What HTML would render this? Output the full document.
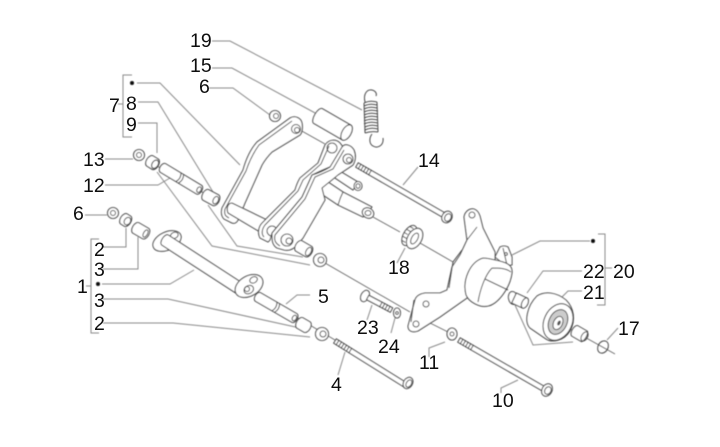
<!DOCTYPE html>
<html><head><meta charset="utf-8">
<style>
html,body{margin:0;padding:0;background:#fff}
svg{display:block}
text{font-family:"Liberation Sans",sans-serif;font-size:19.5px;fill:#111}
.l{fill:none;stroke:#8a8a8a;stroke-width:1}
.p{fill:#fff;stroke:#4a4a4a;stroke-width:1.1;stroke-linejoin:round}
.n{fill:none;stroke:#4a4a4a;stroke-width:1}
.a{fill:none;stroke:#666;stroke-width:.9}
</style></head>
<body>
<svg width="720" height="447" viewBox="0 0 720 447" xmlns="http://www.w3.org/2000/svg">
<defs>
<filter id="b" x="-5%" y="-5%" width="110%" height="110%"><feGaussianBlur stdDeviation="0.45"/></filter>
<filter id="t" x="-5%" y="-5%" width="110%" height="110%"><feGaussianBlur stdDeviation="0.3"/></filter>
</defs>
<g filter="url(#b)">
<!-- axes -->
<path class="a" d="M150 162L216 200M300 130L325 144M256 293L340 343M373 217L400 232M420 243L453 262M325 263L410 312M430 323L450 333M545 315L615 354"/>
<!-- leaders -->
<path class="l" d="M212 41H230L362 110M212 68H232L317 114M209 88H233L270 115M137 83H160L240 165M138 102H158L213 192M138 123H157V153M105 159H133M105 185H158L170 178M85 215H107"/>
<path class="l" d="M132 75H123V137H132M118 104H123M99 239H91V333H99M86 286H91M103 247H126V228M103 269H138V237M102 284H170L194 270M103 299H168L300 328M103 323H173L310 337"/>
<path class="l" d="M286 304L297 295H310M157 172L212 246L310 265M208 205L237 246L303 257M338 375L345 352M501 393V388L518 380M429 357V348L445 342M367 320L372 305M391 333L395 318M397 263L405 248M418 167L403 185M607 340L618 328M582 271H543L527 293M582 291H568L562 297M590 241H540L512 255M598 234H605V305H597M605 268H612M515 305L533 345L573 342"/>
<circle cx="132" cy="83" r="2" fill="#111"/><circle cx="98" cy="284" r="2" fill="#111"/><circle cx="593" cy="241" r="2" fill="#111"/>

<!-- spring -->
<path class="n" d="M365 102C363 94 367 89 372 90C376 91 377 94 376 96"/>
<path class="n" d="M364 103Q370 100 377 102M364 106Q370 103 377 105M364 109Q370 106 377 108M364 112Q370 109 378 111M364 115Q370 112 378 114M364 118Q370 115 378 117M364 121Q370 118 378 120M364 124Q370 121 378 123M365 127Q371 124 378 126M365 130Q371 127 378 129M365 133Q371 131 378 132M364 103L365 133M377 102L378 132"/>
<path class="n" d="M372 134C369 138 369 144 373 146C378 149 384 145 383 138"/>

<!-- small parts upper left -->
<circle class="p" cx="139" cy="155" r="5.5"/><circle class="n" cx="139" cy="155" r="2.5"/>
<g transform="translate(150 161) rotate(32)"><path class="p" d="M0 -6H6A3.5 6 0 0 1 6 6H0A3.5 6 0 0 1 0 -6Z"/><ellipse class="p" cx="6" cy="0" rx="3" ry="4.5"/></g>
<g transform="translate(163 168) rotate(31)"><path class="p" d="M0 -5H42A3 5 0 0 1 42 5H0A3 5 0 0 1 0 -5Z"/><ellipse class="n" cx="42" cy="0" rx="2" ry="3"/><path class="n" d="M18 -5Q21 0 18 5M21 -5Q24 0 21 5"/></g>
<g transform="translate(206 195) rotate(28)"><path class="p" d="M0 -6H11A3.5 6 0 0 1 11 6H0A3.5 6 0 0 1 0 -6Z"/><ellipse class="n" cx="11" cy="0" rx="2.5" ry="4"/></g>

<!-- left plate -->
<path class="p" d="M290 118C295 115 301 118 302 123C303 128 302 133 300 135L272 152Q266 158 262 165L245 203L238 220C236 224 233 224 230 222L224 219C221 216 221 212 222 208L243 170Q248 152 257 142Z"/>
<path class="n" d="M292 121L259 145Q251 156 246 171L225 209C224 214 225 216 229 218"/>
<circle class="n" cx="296" cy="129" r="4.5"/><circle class="n" cx="297" cy="130" r="2.5"/>
<!-- bar -->
<path class="p" d="M232 203L267 220L260 232L228 213C226 208 228 203 232 203Z"/>

<!-- nut 6 top -->
<circle class="p" cx="275" cy="116" r="5.5"/><circle class="n" cx="276" cy="116" r="2.5"/>
<!-- cylinder 15 -->
<g transform="translate(318 116) rotate(30)"><path class="p" d="M0 -8.5H33V8.5H0A3.5 8.5 0 0 1 0 -8.5Z"/><ellipse class="p" cx="33" cy="0" rx="4.5" ry="8.5"/></g>

<!-- big pin -->
<path class="p" d="M325 180L343 192L372 207L363 217L338 205L320 193Z"/>
<ellipse class="p" cx="368" cy="213" rx="6" ry="5" transform="rotate(30 368 213)"/><ellipse class="n" cx="368" cy="213" rx="3" ry="2.5"/>
<path class="n" d="M343 192Q340 198 338 205"/>
<!-- small pin -->
<path class="p" d="M338 170L358 182L353 190L335 178Z"/>
<ellipse class="p" cx="358" cy="186" rx="4" ry="4.5"/><ellipse class="n" cx="358" cy="186" rx="2" ry="2.3"/>

<!-- back plate -->
<path class="p" d="M325 145C329 139 336 139 340 143L343 147L332 166Q322 170 312 175L302 197L272 233L270 240L268 242L260 238C257 232 259 226 262 223L295 190Q297 183 300 178L318 163Z"/>
<path class="n" d="M329 146L321 164L303 180L298 191L265 225C262 229 261 234 264 237"/>
<circle class="n" cx="332" cy="148" r="5"/>
<circle class="n" cx="272" cy="231" r="5"/>
<!-- front plate -->
<path class="p" d="M342 147C345 143 351 145 354 150C356 155 356 160 353 165L338 175L322 188L325 200L303 238L298 244C293 250 288 251 284 250L277 248C272 245 272 240 272 233L302 197L312 175Q322 172 330 167Z"/>
<path class="n" d="M344 150L333 169L315 177L305 199L275 235C274 240 275 243 280 246"/>
<circle class="p" cx="348" cy="159" r="5"/><circle class="n" cx="349" cy="160" r="2.5"/>
<circle class="p" cx="287" cy="240" r="6"/><circle class="n" cx="289" cy="241" r="3"/>

<!-- bush & nut after plates -->
<g transform="translate(299 246) rotate(30)"><path class="p" d="M0 -6H11A3.5 6 0 0 1 11 6H0A3.5 6 0 0 1 0 -6Z"/><ellipse class="n" cx="11" cy="0" rx="2.5" ry="4.5"/></g>
<circle class="p" cx="320" cy="260" r="6.5"/><circle class="n" cx="321" cy="260" r="3"/>

<!-- lower left small -->
<circle class="p" cx="113" cy="213" r="5.5"/><circle class="n" cx="113" cy="213" r="2.5"/>
<g transform="translate(124 219) rotate(32)"><path class="p" d="M0 -6H4A3.5 6 0 0 1 4 6H0A3.5 6 0 0 1 0 -6Z"/><ellipse class="n" cx="4" cy="0" rx="3" ry="4"/></g>
<g transform="translate(136 228) rotate(30)"><path class="p" d="M0 -6H11A3.5 6 0 0 1 11 6H0A3.5 6 0 0 1 0 -6Z"/><ellipse class="n" cx="11" cy="0" rx="2" ry="4"/></g>

<!-- main shaft -->
<g transform="translate(167 241) rotate(-25)"><ellipse class="p" cx="0" cy="0" rx="15" ry="9"/><ellipse class="n" cx="9" cy="-2" rx="4" ry="3"/></g>
<g transform="translate(165 240) rotate(33)"><path class="p" d="M0 -6H95V6H0A3 6 0 0 1 0 -6Z"/></g>
<g transform="translate(249 286) rotate(-30)"><ellipse class="p" cx="0" cy="0" rx="15" ry="10"/><ellipse class="n" cx="7" cy="-3" rx="4" ry="3"/><ellipse class="n" cx="-2" cy="3" rx="5" ry="4"/></g>
<circle class="n" cx="247" cy="289" r="2.5"/>
<g transform="translate(258 297) rotate(30)"><path class="p" d="M0 -5H42A3 5 0 0 1 42 5H0A3 5 0 0 1 0 -5Z"/><ellipse class="n" cx="42" cy="0" rx="2" ry="3"/><path class="n" d="M19 -5Q22 0 19 5M22 -5Q25 0 22 5"/></g>
<g transform="translate(300 323) rotate(30)"><path class="p" d="M0 -6H8A3.5 6 0 0 1 8 6H0A3.5 6 0 0 1 0 -6Z"/></g>
<circle class="p" cx="322" cy="334" r="6.5"/><circle class="n" cx="323" cy="334" r="3"/>

<!-- bolt 4 -->
<g transform="translate(335 341) rotate(32)"><path class="p" d="M0 -2.5H82V2.5H0Z"/><path class="n" d="M3 -3V3M6 -3V3M9 -3V3M12 -3V3M15 -3V3M18 -3V3"/></g>
<g transform="translate(408 383) rotate(32)"><ellipse class="p" cx="0" cy="0" rx="4.5" ry="6"/><ellipse class="n" cx="1" cy="0" rx="2.5" ry="4"/></g>
<!-- bolt 14 -->
<g transform="translate(357 165) rotate(30)"><path class="p" d="M0 -2.5H100V2.5H0Z"/><path class="n" d="M3 -3V3M6 -3V3M9 -3V3M12 -3V3M15 -3V3"/></g>
<g transform="translate(447 217) rotate(30)"><ellipse class="p" cx="0" cy="0" rx="5" ry="6"/><ellipse class="n" cx="1" cy="0" rx="3" ry="4"/></g>
<!-- nut 18 -->
<g transform="translate(412 237) rotate(30)"><ellipse class="p" cx="-3" cy="0" rx="6" ry="11"/><ellipse class="p" cx="3" cy="0" rx="7" ry="11"/><ellipse class="n" cx="3" cy="0" rx="3" ry="6"/><path class="n" d="M-7 -8L-3 -8M-8 -4L-4 -4M-9 0L-5 0M-8 4L-4 4M-7 8L-3 8"/></g>

<!-- bracket plate -->
<path class="p" d="M464 217C465 211 470 208 474 209C477 210 479 213 480 216L483 228L495 252L495 262L467 298L440 317L418 331C412 333 408 331 408 326L415 300C416 296 419 294 425 293L440 293L447 290L452 267L460 255L467 240Z"/>
<path class="n" d="M477 227L467 240M462 250L453 262L449 288M414 300L411 322"/>
<circle class="n" cx="472" cy="215" r="3"/><circle class="n" cx="426" cy="304" r="3"/><circle class="n" cx="416" cy="324" r="3"/>
<!-- clamp -->
<path class="p" d="M495 257L500 247Q504 245 508 247L512 257L512 265L505 265Z"/><circle class="n" cx="506" cy="254" r="1.4"/><path class="n" d="M503 248L507 265"/>
<!-- tube -->
<path class="p" d="M483 258C470 262 462 280 466 295C469 302 480 308 488 306C498 304 510 288 512 273C513 264 505 262 495 260C491 259 487 258 483 258Z"/>
<path class="n" d="M492 268C485 275 480 290 478 302M492 268C498 268 506 268 511 272M485 279L508 290"/>

<!-- small hardware right -->
<g transform="translate(365 296) rotate(28)"><ellipse class="p" cx="0" cy="0" rx="4" ry="6"/><path class="p" d="M3 -2.5H30V2.5H3Z"/><path class="n" d="M18 -3V3M21 -3V3M24 -3V3M27 -3V3"/></g>
<ellipse class="p" cx="397" cy="313" rx="3.5" ry="5"/><circle class="n" cx="397" cy="313" r="1.4"/>
<ellipse class="p" cx="452" cy="334" rx="5" ry="6"/><circle class="n" cx="452" cy="334" r="2"/>
<!-- bolt 10 -->
<g transform="translate(459 340) rotate(30)"><path class="p" d="M0 -2.5H100V2.5H0Z"/><path class="n" d="M3 -3V3M6 -3V3M9 -3V3M12 -3V3M15 -3V3"/></g>
<g transform="translate(547 390) rotate(30)"><ellipse class="p" cx="0" cy="0" rx="5" ry="6.5"/><ellipse class="n" cx="1" cy="0" rx="3" ry="4"/></g>

<!-- spacer 22 -->
<ellipse class="p" cx="513" cy="298" rx="4.5" ry="6.5" transform="rotate(-10 513 298)"/>
<g transform="translate(514 298) rotate(25)"><path class="p" d="M0 -5.5H12V5.5H0Z"/><ellipse class="p" cx="12" cy="0" rx="3" ry="5.5"/></g>
<!-- roller 21 -->
<path class="p" d="M537 296C545 291 556 292 566 300C574 308 576 320 570 331C564 341 552 343 546 339L530 328C524 322 527 306 537 296Z"/>
<ellipse class="p" cx="558" cy="322" rx="14" ry="19" transform="rotate(25 558 322)"/>
<ellipse fill="#ccc" stroke="#4a4a4a" cx="558" cy="322" rx="9" ry="13" transform="rotate(25 558 322)"/>
<ellipse fill="#fff" stroke="#4a4a4a" cx="558" cy="323" rx="4.5" ry="7" transform="rotate(25 558 323)"/>
<ellipse fill="#555" cx="559" cy="323" rx="1.6" ry="2.6" transform="rotate(25 559 323)"/>
<!-- bush -->
<g transform="translate(575 331) rotate(30)"><path class="p" d="M0 -6H11A3.5 7 0 0 1 11 6H0A3 6 0 0 1 0 -6Z"/><ellipse class="n" cx="11" cy="0" rx="3" ry="5"/></g>
<!-- circlip -->
<ellipse class="n" cx="603" cy="347" rx="5" ry="6.5" transform="rotate(30 603 347)" stroke-width="1.6"/>
</g>

<g filter="url(#t)">
<text x="190" y="47">19</text>
<text x="190" y="72">15</text>
<text x="199" y="93">6</text>
<text x="109" y="112">7</text>
<text x="126" y="110">8</text>
<text x="126" y="131">9</text>
<text x="83" y="166">13</text>
<text x="83" y="192">12</text>
<text x="73" y="220">6</text>
<text x="94" y="256">2</text>
<text x="94" y="276">3</text>
<text x="77" y="293">1</text>
<text x="94" y="307">3</text>
<text x="94" y="330">2</text>
<text x="318" y="303">5</text>
<text x="331" y="391">4</text>
<text x="418" y="167">14</text>
<text x="388" y="274">18</text>
<text x="583" y="278">22</text>
<text x="613" y="278">20</text>
<text x="583" y="299">21</text>
<text x="618" y="335">17</text>
<text x="357" y="334">23</text>
<text x="378" y="353">24</text>
<text x="419" y="369">11</text>
<text x="492" y="407">10</text>
</g>
</svg>
</body></html>
